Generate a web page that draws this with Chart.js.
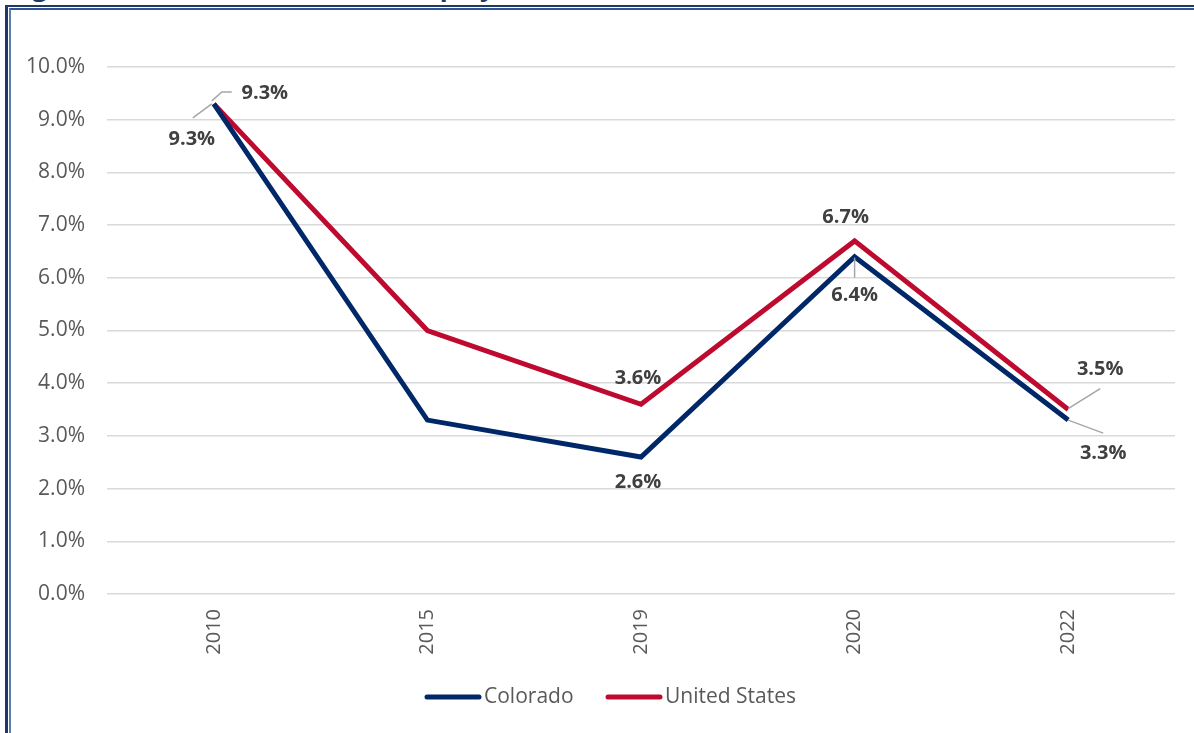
<!DOCTYPE html>
<html>
<head>
<meta charset="utf-8">
<title>Unemployment Rate, Colorado and United States</title>
<script src="https://cdn.jsdelivr.net/npm/chart.js@4/dist/chart.umd.min.js"></script>
<style>
  html, body { margin: 0; padding: 0; background: #ffffff; overflow: hidden; }
  body { width: 1194px; height: 733px; position: relative; }
  #title {
    position: absolute; left: 10px; top: -32px; margin: 0;
    font: bold 26px "Open Sans", sans-serif; color: #1F3864; white-space: nowrap;
  }
  #frameOuter {
    position: absolute; left: 5px; top: 5px; width: 1300px; height: 800px;
    border-left: 3px solid #1F3864; border-top: 2px solid #1F3864;
  }
  #frameInner {
    position: absolute; left: 9px; top: 8px; width: 1300px; height: 800px;
    border-left: 2px solid #5B7DB1; border-top: 2px solid #2F5597;
  }
  #wrap { position: absolute; left: 0; top: 0; width: 1194px; height: 733px; }
</style>
</head>
<body>
<h1 id="title">Figure 4: Colorado and U.S. Unemployment Rate, 2010 - 2022</h1>
<div id="frameOuter"></div>
<div id="frameInner"></div>
<div id="wrap"><canvas id="chart" width="1194" height="733"></canvas></div>
<script>
// Years shown on the category axis
const years = ['2010', '2015', '2019', '2020', '2022'];

// Annual unemployment rate (%)
const coloradoRate = [9.3, 3.3, 2.6, 6.4, 3.3];
const usRate = [9.3, 5.0, 3.6, 6.7, 3.5];

// Series names
const seriesNames = ['Colorado', 'United States'];
const seriesColors = ['#002868', '#BF0A30'];

// Which points carry a value label (2015 is unlabeled)
const labeled = [true, false, true, true, true];

// Label placement relative to each point: text offset and optional leader path
const labelLayout = [
  [ // Colorado
    { dx: -22, dy: 35, leader: [[-2, 0], [-21, 14]] },
    null,
    { dx: -3, dy: 25 },
    { dx: 0, dy: 39, leader: [[0, 1], [0, 21]] },
    { dx: 35, dy: 33, leader: [[0, 0], [35, 13]] }
  ],
  [ // United States
    { dx: 51, dy: -11, leader: [[-2, -3], [8, -12], [18, -12]] },
    null,
    { dx: -3, dy: -26 },
    { dx: -9, dy: -24 },
    { dx: 32, dy: -40, leader: [[0, -1], [32, -21]] }
  ]
];

const TEXT_FONT = '"Open Sans", "Liberation Sans", sans-serif';

const valueLabels = {
  id: 'valueLabels',
  afterDatasetsDraw(chart) {
    const ctx = chart.ctx;
    ctx.save();
    chart.data.datasets.forEach((ds, di) => {
      const meta = chart.getDatasetMeta(di);
      meta.data.forEach((pt, i) => {
        if (!labeled[i]) return;
        const lay = labelLayout[di][i];
        if (!lay) return;
        const px = pt.x, py = pt.y;
        if (lay.leader) {
          ctx.beginPath();
          ctx.strokeStyle = '#A6A6A6';
          ctx.lineWidth = 1.5;
          lay.leader.forEach((p, k) => {
            if (k === 0) ctx.moveTo(px + p[0], py + p[1]);
            else ctx.lineTo(px + p[0], py + p[1]);
          });
          ctx.stroke();
        }
        ctx.fillStyle = '#404040';
        ctx.font = 'bold 20px ' + TEXT_FONT;
        ctx.textAlign = 'center';
        ctx.textBaseline = 'middle';
        ctx.fillText(ds.data[i].toFixed(1) + '%', px + lay.dx, py + lay.dy);
      });
    });
    ctx.restore();
  }
};

// Legend drawn below the axis: line swatch followed by series name
const lineLegend = {
  id: 'lineLegend',
  afterDraw(chart) {
    const ctx = chart.ctx;
    const y = 697;
    const items = [
      { x: 427, w: 52 },
      { x: 608, w: 52 }
    ];
    ctx.save();
    chart.data.datasets.forEach((ds, di) => {
      const it = items[di];
      ctx.beginPath();
      ctx.strokeStyle = ds.borderColor;
      ctx.lineWidth = 5;
      ctx.lineCap = 'round';
      ctx.moveTo(it.x, y);
      ctx.lineTo(it.x + it.w, y);
      ctx.stroke();
      ctx.fillStyle = '#595959';
      ctx.font = '21px ' + TEXT_FONT;
      ctx.textAlign = 'left';
      ctx.textBaseline = 'middle';
      ctx.fillText(ds.label, it.x + it.w + 5, y);
    });
    ctx.restore();
  }
};

new Chart(document.getElementById('chart'), {
  type: 'line',
  data: {
    labels: years,
    datasets: [
      {
        label: seriesNames[0],
        data: coloradoRate,
        borderColor: seriesColors[0],
        backgroundColor: seriesColors[0],
        borderWidth: 5,
        pointRadius: 0,
        tension: 0
      },
      {
        label: seriesNames[1],
        data: usRate,
        borderColor: seriesColors[1],
        backgroundColor: seriesColors[1],
        borderWidth: 5,
        pointRadius: 0,
        tension: 0
      }
    ]
  },
  options: {
    responsive: false,
    animation: false,
    devicePixelRatio: 1,
    layout: { padding: { left: 10, right: 19, top: 67, bottom: 60 } },
    plugins: {
      legend: { display: false },
      tooltip: { enabled: false }
    },
    scales: {
      x: {
        offset: true,
        grid: { display: false, drawTicks: false },
        border: { display: false },
        ticks: {
          minRotation: 90, maxRotation: 90,
          padding: 15,
          color: '#595959',
          font: { family: TEXT_FONT, size: 20 }
        },
        afterFit(scale) { scale.height = 79; }
      },
      y: {
        min: 0, max: 10,
        ticks: {
          stepSize: 1,
          padding: 22,
          color: '#595959',
          font: { family: TEXT_FONT, size: 21 },
          callback: v => v.toFixed(1) + '%'
        },
        grid: { color: '#D9D9D9', lineWidth: 1.5, drawTicks: false },
        border: { display: false },
        afterFit(scale) { scale.width = 97; }
      }
    }
  },
  plugins: [valueLabels, lineLegend]
});
</script>
</body>
</html>
